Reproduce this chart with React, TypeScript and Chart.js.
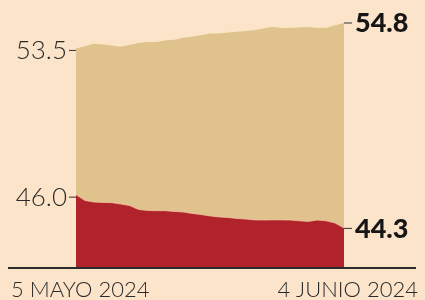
import React, { useEffect, useRef } from "react";
import { Chart, registerables } from "chart.js";

Chart.register(...registerables);

const dates = [
  "5 MAYO 2024", "6 MAYO 2024", "7 MAYO 2024", "8 MAYO 2024", "9 MAYO 2024",
  "10 MAYO 2024", "11 MAYO 2024", "12 MAYO 2024", "13 MAYO 2024", "14 MAYO 2024",
  "15 MAYO 2024", "16 MAYO 2024", "17 MAYO 2024", "18 MAYO 2024", "19 MAYO 2024",
  "20 MAYO 2024", "21 MAYO 2024", "22 MAYO 2024", "23 MAYO 2024", "24 MAYO 2024",
  "25 MAYO 2024", "26 MAYO 2024", "27 MAYO 2024", "28 MAYO 2024", "29 MAYO 2024",
  "30 MAYO 2024", "31 MAYO 2024", "1 JUNIO 2024", "2 JUNIO 2024", "3 JUNIO 2024",
  "4 JUNIO 2024",
];

const upperSeries = [
  53.5, 53.61, 53.74, 53.7, 53.65, 53.58, 53.68, 53.78, 53.83, 53.83,
  53.91, 53.94, 54.04, 54.1, 54.17, 54.26, 54.26, 54.31, 54.35, 54.39,
  54.43, 54.52, 54.6, 54.55, 54.55, 54.57, 54.59, 54.55, 54.55, 54.68,
  54.8,
];

const lowerSeries = [
  46.0, 45.7, 45.62, 45.6, 45.59, 45.52, 45.44, 45.24, 45.19, 45.18,
  45.18, 45.14, 45.11, 45.04, 44.98, 44.91, 44.86, 44.83, 44.78, 44.75,
  44.71, 44.7, 44.71, 44.71, 44.7, 44.66, 44.63, 44.7, 44.66, 44.55,
  44.3,
];

const BG = "#fbe4c9";
const TAN = "#e0c28c";
const RED = "#b0232b";
const INK = "#161616";

const overlay = {
  id: "overlay",
  beforeDraw(chart: any) {
    const { ctx, width, height } = chart;
    ctx.save();
    ctx.fillStyle = BG;
    ctx.fillRect(0, 0, width, height);
    ctx.restore();
  },
  afterDraw(chart: any) {
    const { ctx, chartArea } = chart;
    const y = chart.scales.y;
    const x = chart.scales.x;
    ctx.save();
    // baseline
    ctx.strokeStyle = "#2b2b2b";
    ctx.lineWidth = 2;
    ctx.beginPath();
    ctx.moveTo(8, chartArea.bottom);
    ctx.lineTo(416, chartArea.bottom);
    ctx.stroke();

    const series = [upperSeries, lowerSeries];
    ctx.lineWidth = 1;
    ctx.strokeStyle = "#333";
    series.forEach((s) => {
      // left
      const v0 = s[0];
      const py0 = y.getPixelForValue(v0) + 2;
      const px0 = x.getPixelForValue(0);
      ctx.beginPath();
      ctx.moveTo(px0 - 7, py0 + 0.5);
      ctx.lineTo(px0, py0 + 0.5);
      ctx.stroke();
      ctx.fillStyle = "#2a2a2a";
      ctx.font = "300 26px Lato";
      ctx.textAlign = "right";
      ctx.textBaseline = "middle";
      ctx.fillText(v0.toFixed(1), px0 - 9, py0 + 1);
      // right
      const v1 = s[s.length - 1];
      const py1 = y.getPixelForValue(v1);
      const px1 = x.getPixelForValue(s.length - 1);
      ctx.beginPath();
      ctx.moveTo(px1, py1 + 0.5);
      ctx.lineTo(px1 + 8, py1 + 0.5);
      ctx.stroke();
      ctx.fillStyle = INK;
      ctx.font = "900 27px Lato";
      ctx.textAlign = "left";
      ctx.fillText(v1.toFixed(1), px1 + 11, py1 + 1);
    });

    ctx.fillStyle = "#2a2a2a";
    ctx.font = "300 22px Lato";
    ctx.textBaseline = "alphabetic";
    ctx.textAlign = "left";
    ctx.fillText(dates[0], 11, 297);
    ctx.textAlign = "right";
    ctx.fillText(dates[dates.length - 1], 418, 297);
    ctx.restore();
  },
};

export default function App() {
  const ref = useRef<HTMLCanvasElement | null>(null);
  useEffect(() => {
    if (!ref.current) return;
    const chart = new Chart(ref.current, {
      type: "line",
      data: {
        labels: dates,
        datasets: [
          {
            label: "lower",
            data: lowerSeries,
            backgroundColor: RED,
            borderColor: "rgba(245,200,170,0.7)",
            borderWidth: 1,
            fill: "start",
            pointRadius: 0,
            tension: 0,
          },
          {
            label: "upper",
            data: upperSeries,
            backgroundColor: TAN,
            borderColor: "rgba(250,232,200,0.9)",
            borderWidth: 1,
            fill: "start",
            pointRadius: 0,
            tension: 0,
          },
        ],
      },
      options: {
        animation: false,
        responsive: false,
        layout: { padding: { left: 76, right: 81, top: 0, bottom: 32 } },
        plugins: { legend: { display: false }, tooltip: { enabled: false } },
        scales: {
          x: { display: false, offset: false },
          y: { display: false, min: 42.25, max: 55.95 },
        },
      },
      plugins: [overlay],
    });
    return () => chart.destroy();
  }, []);
  return (
    <div style={{ position: "fixed", left: 0, top: 0, width: 425, height: 300 }}>
      <canvas ref={ref} width={425} height={300} style={{ display: "block" }} />
    </div>
  );
}
